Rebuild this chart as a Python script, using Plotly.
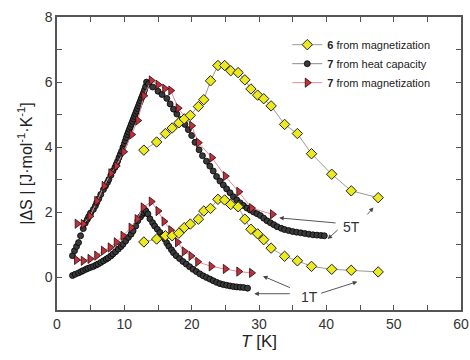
import plotly.graph_objects as go

# ---- data: 6 from magnetization (yellow diamonds) ----
T_y = [12.9, 14.8, 16.1, 17.1, 18.1, 18.9, 19.8, 21.0, 21.8, 22.8, 23.9, 24.9, 25.8,
       26.9, 27.9, 28.8, 29.8, 30.7, 31.8, 33.8, 35.7, 37.8, 40.8, 43.7, 47.7]
S_y5 = [3.91, 4.16, 4.42, 4.59, 4.75, 4.87, 4.98, 5.25, 5.46, 6.04, 6.51, 6.51, 6.35,
        6.29, 6.07, 5.79, 5.60, 5.49, 5.27, 4.70, 4.42, 3.80, 3.17, 2.66, 2.45]
S_y1 = [1.09, 1.18, 1.28, 1.28, 1.36, 1.53, 1.64, 1.79, 2.04, 2.12, 2.40, 2.38, 2.24,
        2.17, 1.79, 1.48, 1.34, 1.16, 0.90, 0.65, 0.51, 0.34, 0.25, 0.22, 0.17]

# ---- 7 from heat capacity (black circles) ----
T_b5 = [2.3, 2.6, 2.9, 3.2, 3.5, 3.9, 4.2, 4.5, 4.7, 5.0, 5.4, 5.7, 5.9, 6.2, 6.5, 6.9,
        7.2, 7.5, 7.7, 8.0, 8.3, 8.6, 8.8, 9.0, 9.2, 9.4, 9.6, 9.8, 10.0, 10.15, 10.3,
        10.45, 10.6, 10.75, 10.9, 11.05, 11.2, 11.35, 11.5, 11.65, 11.8, 11.95, 12.1,
        12.25, 12.4, 12.55, 12.7, 12.85, 13.0, 13.15, 13.3, 13.6, 14.2, 15.0, 15.6, 16.3,
        16.8, 17.3, 17.8, 18.4, 19.0, 19.5, 20.0, 20.5, 21.1, 21.6, 22.2, 22.7, 23.2,
        23.7, 24.2, 24.7, 25.2, 25.7, 26.2, 26.7, 27.2, 27.7, 28.2, 28.7, 29.2, 29.7,
        30.2, 30.7, 31.2, 31.7, 32.2, 32.7, 33.3, 33.8, 34.4, 35.0, 35.6, 36.2, 36.8,
        37.4, 38.0, 38.6, 39.2, 39.7]
S_b5 = [0.67, 0.82, 0.95, 1.07, 1.28, 1.50, 1.67, 1.78, 1.87, 1.98, 2.09, 2.20, 2.30,
        2.42, 2.55, 2.70, 2.81, 2.92, 3.01, 3.14, 3.27, 3.38, 3.47, 3.57, 3.68, 3.78,
        3.88, 4.00, 4.11, 4.20, 4.30, 4.39, 4.47, 4.55, 4.63, 4.71, 4.79, 4.87, 4.95,
        5.03, 5.11, 5.19, 5.27, 5.35, 5.43, 5.51, 5.59, 5.67, 5.76, 5.86, 6.00, 5.95,
        5.85, 5.72, 5.62, 5.50, 5.33, 5.17, 5.02, 4.85, 4.70, 4.54, 4.36, 4.15, 3.92,
        3.74, 3.57, 3.42, 3.27, 3.10, 2.96, 2.84, 2.72, 2.60, 2.48, 2.38, 2.29, 2.21,
        2.13, 2.07, 2.01, 1.96, 1.90, 1.82, 1.74, 1.68, 1.62, 1.56, 1.51, 1.47, 1.44,
        1.41, 1.39, 1.37, 1.35, 1.33, 1.31, 1.30, 1.29, 1.28]
T_b1 = [2.3, 2.7, 3.2, 3.6, 3.9, 4.3, 4.6, 5.0, 5.4, 5.8, 6.1, 6.5, 6.9, 7.3, 7.6, 8.0,
        8.3, 8.7, 9.1, 9.5, 9.8, 10.2, 10.6, 11.0, 11.3, 11.7, 12.0, 12.4, 12.7, 12.9,
        13.2, 13.5, 13.8, 14.2, 14.5, 14.9, 15.3, 15.7, 16.0, 16.3, 16.6, 17.0, 17.3,
        17.7, 18.2, 18.7, 19.2, 19.7, 20.2, 20.7, 21.2, 21.7, 22.2, 22.7, 23.2, 23.7,
        24.2, 24.7, 25.2, 25.7, 26.2, 26.7, 27.2, 27.7, 28.3]
S_b1 = [0.06, 0.10, 0.14, 0.18, 0.21, 0.25, 0.28, 0.31, 0.34, 0.38, 0.41, 0.46, 0.51,
        0.56, 0.60, 0.66, 0.72, 0.79, 0.87, 0.95, 1.02, 1.12, 1.23, 1.33, 1.43, 1.58,
        1.74, 1.86, 1.94, 1.99, 2.04, 1.95, 1.80, 1.68, 1.58, 1.48, 1.38, 1.28, 1.18,
        1.06, 0.96, 0.85, 0.76, 0.67, 0.58, 0.49, 0.41, 0.33, 0.25, 0.18, 0.11, 0.05,
        0.00, -0.05, -0.10, -0.15, -0.19, -0.22, -0.24, -0.26, -0.28, -0.29, -0.30,
        -0.31, -0.33]

# ---- 7 from magnetization (red triangles) ----
T_r5 = [3.0, 3.9, 4.9, 5.9, 7.0, 8.0, 8.8, 9.9, 11.1, 12.0, 12.9, 14.0, 15.0, 16.0,
        16.9, 18.0, 20.0, 21.0, 23.0, 25.0, 27.0, 28.9, 32.0]
S_r5 = [1.65, 1.64, 1.88, 2.35, 2.81, 3.20, 3.42, 3.86, 4.39, 4.82, 5.58, 6.05, 5.92,
        5.80, 5.74, 5.20, 4.66, 4.14, 3.68, 3.11, 2.63, 2.13, 1.94]
T_r1 = [2.9, 3.9, 4.9, 5.9, 6.9, 7.9, 8.8, 9.8, 11.0, 11.9, 12.8, 14.0, 15.0, 15.9,
        16.9, 17.9, 18.9, 19.9, 20.9, 22.9, 25.0, 27.0, 28.9]
S_r1 = [0.54, 0.51, 0.57, 0.67, 0.82, 0.92, 1.08, 1.28, 1.53, 1.79, 2.15, 2.33, 2.04,
        1.72, 1.45, 1.08, 0.80, 0.66, 0.48, 0.34, 0.26, 0.18, 0.14]

legend_names = ["<b>6</b> from magnetization", "<b>7</b> from heat capacity",
                "<b>7</b> from magnetization"]

x_ticks = [0, 10, 20, 30, 40, 50, 60]
y_ticks = [0, 2, 4, 6, 8]

FONT = "Liberation Sans, Arial, sans-serif"

fig = go.Figure()

black_marker = dict(symbol="circle", size=6, color="#3a3a3a",
                    line=dict(color="#000000", width=0.8))
red_marker = dict(symbol="triangle-right", size=8, color="#c0303c",
                  line=dict(color="#2a0a0a", width=0.8))
yel_marker = dict(symbol="diamond", size=8, color="#ecea1e",
                  line=dict(color="#222222", width=1))

for T, S, show in [(T_b5, S_b5, True), (T_b1, S_b1, False)]:
    fig.add_trace(go.Scatter(x=T, y=S, mode="lines+markers", name=legend_names[1],
                             legendgroup="b", showlegend=show, legendrank=2,
                             line=dict(color="#8a8a8a", width=1), marker=black_marker))
for T, S, show in [(T_r5, S_r5, True), (T_r1, S_r1, False)]:
    fig.add_trace(go.Scatter(x=T, y=S, mode="lines+markers", name=legend_names[2],
                             legendgroup="r", showlegend=show, legendrank=3,
                             line=dict(color="#e88a96", width=1), marker=red_marker))
for S, show in [(S_y5, True), (S_y1, False)]:
    fig.add_trace(go.Scatter(x=T_y, y=S, mode="lines+markers", name=legend_names[0],
                             legendgroup="y", showlegend=show, legendrank=1,
                             line=dict(color="#9a9a9a", width=1), marker=yel_marker))

# annotations: field labels and arrows
fig.add_annotation(x=43.7, y=1.55, text="5T", showarrow=False,
                   font=dict(size=14, color="#333", family=FONT))
fig.add_annotation(x=37.5, y=-0.6, text="1T", showarrow=False,
                   font=dict(size=14, color="#333", family=FONT))
arrows = [
    (33.0, 1.83, 41.6, 1.67),
    (40.2, 1.18, 41.9, 1.50),
    (47.0, 2.15, 45.9, 1.89),
    (29.3, -0.50, 34.8, -0.50),
    (30.6, 0.04, 34.8, -0.33),
    (44.6, -0.13, 39.0, -0.50),
]
for x, y, ax, ay in arrows:
    fig.add_annotation(x=x, y=y, ax=ax, ay=ay, xref="x", yref="y", axref="x", ayref="y",
                       text="", showarrow=True, arrowhead=2, arrowsize=1,
                       arrowwidth=0.9, arrowcolor="#444")

axis_common = dict(showline=True, linecolor="#555", linewidth=1.5, mirror="ticks",
                   ticks="inside", ticklen=5, tickcolor="#555", tickwidth=1.2,
                   showgrid=False, zeroline=False, automargin=False,
                   tickfont=dict(size=14, color="#333", family=FONT))

fig.update_xaxes(range=[0, 60], tickvals=x_ticks,
                 minor=dict(dtick=5, ticks="inside", ticklen=5, tickcolor="#555"),
                 title=dict(text="<i>T</i> [K]", font=dict(size=17, color="#222", family=FONT),
                            standoff=4),
                 **axis_common)
fig.update_yaxes(range=[-1, 8], tickvals=y_ticks,
                 minor=dict(dtick=1, ticks="inside", ticklen=5, tickcolor="#555"),
                 title=dict(text="|ΔS | [J·mol<sup>-1</sup>·K<sup>-1</sup>]",
                            font=dict(size=16, color="#222", family=FONT), standoff=8),
                 **axis_common)

fig.update_layout(
    width=470, height=360,
    margin=dict(l=57, r=9, t=17, b=50),
    paper_bgcolor="white", plot_bgcolor="white",
    showlegend=True,
    legend=dict(x=0.57, y=0.955, xanchor="left", yanchor="top",
                bgcolor="rgba(0,0,0,0)", font=dict(size=11, color="#222", family=FONT),
                tracegroupgap=0, itemwidth=30),
)

fig.write_html("out.html", config={"displayModeBar": False},
               post_script="document.body.style.margin='0';document.body.style.padding='0';")
